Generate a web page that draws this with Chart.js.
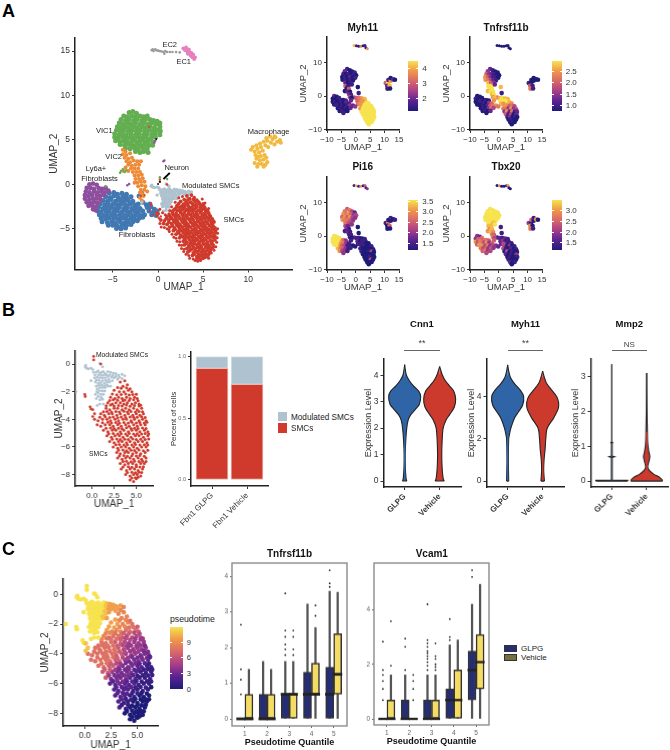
<!DOCTYPE html>
<html>
<head>
<meta charset="utf-8">
<title>Figure</title>
<script src="https://cdn.jsdelivr.net/npm/chart.js@4/dist/chart.umd.min.js"></script>
<style>
  html, body { margin: 0; padding: 0; background: #fff; }
  #page { position: relative; width: 670px; height: 750px; overflow: hidden; font-family: "Liberation Sans", Arial, sans-serif; color: #222; }
  #page canvas { position: absolute; }
  .t { position: absolute; white-space: nowrap; transform: translate(-50%, -50%); }
</style>
</head>
<body>
<div id="page"></div>
<script>
// ---- panel A, UMAP clusters [x, y]
const fibroPts = [[-5.4,-1],[-4.9,-.9],[-4.5,-1.1],[-4,-1],[-3.5,-1.1],
[-5.8,-1.4],[-5.3,-1.5],[-4.9,-1.3],[-4.4,-1.5],[-3.9,-1.4],[-3.5,-1.5],[-3,-1.4],
[-6.1,-1.8],[-5.6,-1.9],[-5.2,-1.7],[-4.7,-1.9],[-4.2,-1.8],[-3.8,-1.9],[-3.3,-1.8],[-2.8,-1.9],
[-6.4,-2.2],[-5.9,-2.3],[-5.5,-2.2],[-5,-2.2],[-4.5,-2.3],[-4.1,-2.2],[-3.6,-2.3],[-3.1,-2.2],[-2.6,-2.3],[-2.2,-2.2],
[-6.6,-2.6],[-6.1,-2.7],[-5.7,-2.6],[-5.2,-2.6],[-4.8,-2.7],[-4.3,-2.6],[-3.8,-2.7],[-3.4,-2.6],[-2.9,-2.7],[-2.4,-2.6],[-2,-2.7],[-1.2,-2.6],[-.8,-2.5],[-.4,-2.8],
[-6.7,-3],[-6.3,-3.1],[-5.8,-3],[-5.4,-3],[-4.9,-3.1],[-4.5,-3],[-4,-3.1],[-3.5,-3],[-3.1,-3.1],[-2.6,-3],[-2.2,-3.1],[-1.7,-3],[-1,-3],[-.5,-3.1],[-.1,-3],
[-6.5,-3.4],[-6,-3.5],[-5.6,-3.4],[-5.1,-3.4],[-4.7,-3.5],[-4.2,-3.4],[-3.7,-3.5],[-3.3,-3.4],[-2.8,-3.5],[-2.4,-3.4],[-1.9,-3.5],[-1.5,-3.4],[-.7,-3.4],[-.2,-3.5],
[-6.3,-3.8],[-5.8,-3.9],[-5.4,-3.8],[-4.9,-3.8],[-4.4,-3.9],[-4,-3.8],[-3.5,-3.9],[-3,-3.8],[-2.6,-3.9],[-2.1,-3.8],[-1.7,-3.7],
[-6.2,-4.2],[-5.6,-4.3],[-5.1,-4.2],[-4.7,-4.3],[-4.2,-4.2],[-3.7,-4.3],[-3.3,-4.2],[-2.8,-4.2],[-2.3,-4.1],
[-5.5,-4.6],[-5,-4.6],[-4.5,-4.7],[-4,-4.6],[-3.5,-4.6],[-3,-4.5],[-4.6,-4.95],[-4.1,-5],[-3.6,-4.9],
[-1.8,-1],[-2.1,-1.3],[-1.7,-2],[-1.3,-2.3],[-.9,-2.2]];

const ly6aPts = [[-7.6,0],[-7.2,.1],[-6.8,-.05],[-7.9,-.4],[-7.5,-.4],[-7.1,-.5],[-6.6,-.4],[-6.2,-.5],[-5.8,-.4],
[-8,-.8],[-7.6,-.9],[-7.1,-.8],[-6.7,-.9],[-6.3,-.8],[-5.9,-.9],[-5.5,-.7],
[-8.1,-1.2],[-7.7,-1.3],[-7.3,-1.2],[-6.8,-1.2],[-6.4,-1.3],[-6,-1.2],
[-8.1,-1.6],[-7.6,-1.7],[-7.2,-1.6],[-6.8,-1.6],[-6.4,-1.7],
[-7.9,-2],[-7.5,-2.1],[-7.1,-2],[-6.7,-2.1],[-7.7,-2.4],[-7.3,-2.4],[-6.9,-2.5],[-7.2,-2.8],[-6.9,-2.9]];

const vic1Pts = [[-3.2,8.1],[-2.8,8.2],[-2.4,8],
[-3.8,7.7],[-3.4,7.6],[-2.9,7.7],[-2.5,7.6],[-2,7.7],[-1.6,7.6],[-1.2,7.7],
[-4.1,7.3],[-3.6,7.2],[-3.2,7.3],[-2.7,7.2],[-2.3,7.3],[-1.8,7.2],[-1.4,7.3],[-.9,7.3],[-.5,7.2],[-.1,7.1],
[-4.3,6.9],[-3.9,6.8],[-3.4,6.9],[-3,6.8],[-2.5,6.9],[-2,6.8],[-1.6,6.9],[-1.1,6.8],[-.7,6.9],[-.2,6.8],[.2,6.9],
[-4.5,6.5],[-4.1,6.4],[-3.6,6.5],[-3.2,6.4],[-2.7,6.5],[-2.3,6.4],[-1.8,6.5],[-1.4,6.4],[-.9,6.5],[-.4,6.4],[.2,6.5],
[-4.6,6.1],[-4.2,6],[-3.8,6.1],[-3.3,6],[-2.9,6.1],[-2.4,6],[-2,6.1],[-1.5,6],[-1,6.1],[-.6,6],[-.1,6.1],[.25,6],
[-4.8,5.7],[-4.3,5.6],[-3.9,5.7],[-3.5,5.6],[-3,5.7],[-2.5,5.6],[-2.1,5.7],[-1.6,5.6],[-1.2,5.7],[-.7,5.6],[-.3,5.7],[.2,5.6],
[-4.8,5.3],[-4.4,5.2],[-3.9,5.3],[-3.4,5.2],[-3,5.3],[-2.6,5.2],[-2.1,5.3],[-1.7,5.2],[-1.3,5.3],[-.8,5.2],[-.3,5.3],
[-4.7,4.9],[-4.2,4.8],[-3.8,4.9],[-3.4,4.8],[-2.9,4.9],[-2.4,4.8],[-2,4.9],[-1.5,4.8],[-1.1,4.9],[-.6,4.8],
[-4.2,4.5],[-3.7,4.4],[-3.2,4.5],[-2.8,4.4],[-2.3,4.5],[-1.9,4.4],[-1.4,4.5],[-1,4.4],[-.6,4.4],
[-3.6,4.1],[-3.1,4],[-2.6,4.1],[-2.2,4],[-1.7,4.1],[-1.2,4],[-2.5,3.7],[-2,3.6],[-1.6,3.7],[-1.1,3.6]];

const vic2Pts = [[-3.9,3.9],[-3.6,3.7],[-3.9,3.4],[-3.5,3.3],[-3.1,3.5],[-3.7,3],[-3.3,2.9],[-2.9,3],[-3.5,2.6],[-3.1,2.5],[-2.7,2.7],[-2.3,2.6],
[-3.3,2.2],[-2.9,2.1],[-2.5,2.2],[-2.1,2.2],[-1.9,2.6],[-3.6,1.9],[-3,1.8],[-2.6,1.8],[-2.2,1.8],[-3.8,1.5],[-3.3,1.5],[-2.8,1.4],[-2.4,1.4],[-2,1.4],
[-2.6,1],[-2.2,1],[-1.8,1.1],[-2.5,.6],[-2.1,.6],[-1.7,.7],[-2.6,.2],[-2.3,.2],[-1.9,.3],[-1.5,.3],[-2.2,-.2],[-1.8,-.1],[-1.4,-.2],
[-1.9,-.6],[-1.5,-.6],[-1.2,-.8],[-1.8,-1],[-1.6,-1.3],[-2,-1.5],[-1.8,-1.8],[-2,-.9]];

const macroPts = [[10.3,3.9],[10.5,4.2],[10.7,3.7],[10.9,4.4],[11,4],[11.2,3.6],[11.3,4.6],[11.4,4.2],[11.6,3.8],[11.7,4.8],[11.9,4.4],[12,5.2],[12.1,4.9],[12.2,4.2],
[12.4,5.4],[12.5,4.7],[12.7,5.1],[12.9,4.5],[13,5.3],[13.2,4.8],[13.5,5],[13.6,4.7],[12.9,5.4],[10.8,3.3],[11.1,3.1],[11.4,3.2],[11.8,3.3],[10.9,2.9],[11.3,2.7],[11.7,2.8],[12,3],
[10.7,2.4],[11.1,2.3],[11.5,2.3],[11.9,2.2],[11,2],[11.7,2],[12.1,2.5]];

const ec1Pts = [[2.8,15.3],[3,15.1],[3.1,15.4],[3.2,15],[3.3,14.7],[3.4,15.2],[3.5,14.9],[3.6,14.5],[3.7,14.8],[3.8,14.3],[3.9,14.6],[4,14.1],[4.1,14.3],[3.3,14.9]];
const ec2Pts = [[-.7,15.1],[-.6,15.2],[-.5,15],[-.3,15.2],[-.2,15.1],[0,15.05],[.2,15],[.4,14.95],[.6,14.9],[.7,14.7],[.8,15],[1,14.9],[1.3,14.9],[1.6,14.9],[2,14.9],[2.4,14.85]];
const greenBits = [[-4.1,1.5],[-3.9,1.7],[-3.7,1.4],[-4.2,1.3],[-3.5,1.6],[.2,.8],[1,.6],[-5.8,-.2]];
const purpleBits = [[.7,2.7],[.6,2.6],[-3.2,.05],[-3.4,-.1],[-.3,4.9],[-.4,4.7]];
const blackBits = [[0,.05],[.2,.3],[-.2,5.1]];
const redBits = [[-6.6,-2],[-1.9,-1.3],[-1.5,-1.2],[-1,6.5],[-.6,-3.4],[-.9,-2.9]];
const neuronArrowX = [.6,1.3];
const neuronArrowY = [.6,1.3];

// SMC subset, shared by the panels A, B and C [x, y, pseudotime]
const smcPts = [[3.2,-1.3,8],[3.7,-1.2,8],[4,-1.5,8],[3.5,-1.6,8],[2.9,-1.7,9],[2.5,-1.9,9],[3.1,-2,9],[3.6,-2,8],[4.1,-1.9,8],[4.5,-2,7],
[2.1,-2.4,9],[2.6,-2.5,8],[3,-2.4,8],[3.4,-2.5,8],[3.9,-2.4,7],[4.3,-2.5,7],[4.8,-2.4,7],[5.1,-2.5,6],
[1.8,-2.8,8],[2.3,-2.9,7],[2.7,-2.8,7],[3.2,-2.8,7],[3.6,-2.9,6],[4,-2.8,5],[4.5,-2.9,5],[4.9,-2.8,5],[5.3,-2.9,5],
[1.6,-3.2,7],[2,-3.3,7],[2.5,-3.2,7],[2.9,-3.2,6],[3.4,-3.3,6],[3.8,-3.2,5],[4.2,-3.3,4],[4.7,-3.2,4],[5.1,-3.3,4],[5.6,-3.2,4],
[1,-3.6,7],[1.4,-3.7,7],[1.9,-3.6,7],[2.3,-3.6,7],[2.8,-3.7,7],[3.2,-3.6,6],[3.7,-3.7,5],[4.1,-3.6,4],[4.6,-3.7,4],[5,-3.6,4],[5.4,-3.7,4],[5.8,-3.6,4],
[.3,-4,7],[.7,-4.1,7],[1.2,-4,7],[1.7,-4,7],[2.1,-4.1,7],[2.6,-4,7],[3,-4.1,6],[3.5,-4,6],[3.9,-4,4],[4.4,-4.1,4],[4.8,-4,4],[5.3,-4.1,3],[5.7,-4,3],[6.1,-4.1,3],
[.6,-4.4,7],[1,-4.5,7],[1.5,-4.4,7],[2,-4.4,7],[2.4,-4.5,7],[2.9,-4.4,6],[3.3,-4.5,6],[3.8,-4.4,4],[4.2,-4.5,3],[4.7,-4.4,3],[5.1,-4.5,3],[5.5,-4.4,3],[6,-4.4,2],
[1.3,-4.8,7],[1.8,-4.9,7],[2.3,-4.8,6],[2.7,-4.8,6],[3.2,-4.9,4],[3.6,-4.8,3],[4.1,-4.9,3],[4.5,-4.8,3],[5,-4.8,2],[5.4,-4.9,2],[5.9,-4.8,1],[6.3,-4.9,1],
[1.7,-5.2,6],[2.2,-5.3,6],[2.6,-5.2,4],[3.1,-5.2,3],[3.5,-5.3,3],[4,-5.2,3],[4.4,-5.3,3],[4.9,-5.2,2],[5.3,-5.2,1],[5.8,-5.3,1],[6.3,-5.2,1],
[2,-5.6,6],[2.5,-5.7,3],[3,-5.6,3],[3.4,-5.6,3],[3.9,-5.7,3],[4.3,-5.6,2],[4.8,-5.7,2],[5.2,-5.6,1],[5.7,-5.6,1],[6.2,-5.7,1],
[2.4,-6,2],[2.9,-6.1,2],[3.3,-6,3],[3.8,-6,2],[4.2,-6.1,2],[4.7,-6,2],[5.1,-6.1,1],[5.6,-6,1],[6.1,-6,1],
[2.8,-6.4,2],[3.2,-6.5,2],[3.7,-6.4,2],[4.1,-6.4,2],[4.6,-6.5,1],[5,-6.4,1],[5.5,-6.5,1],[6,-6.4,1],
[2.9,-6.8,2],[3.4,-6.9,2],[3.8,-6.8,2],[4.3,-6.8,1],[4.7,-6.9,1],[5.2,-6.8,0],[5.6,-6.9,0],[6.1,-6.8,0],
[3.2,-7.2,2],[3.7,-7.3,1],[4.1,-7.2,1],[4.6,-7.2,0],[5,-7.3,0],[5.5,-7.2,0],[5.9,-7.2,0],
[3.3,-7.6,2],[3.9,-7.7,1],[4.3,-7.6,0],[4.8,-7.6,0],[5.2,-7.7,0],[5.7,-7.6,0],
[3.8,-8,0],[4.3,-8.1,0],[4.7,-8,0],[5.1,-8,0],[5.5,-8.1,0],[4.3,-8.4,0],[4.7,-8.5,0],[5,-8.3,0]];

// more SMC cells, sitting in the gaps between the ones above
const smcFillPts = [[3.3,-1.75,8],[3.9,-1.72,8],[4.3,-1.78,7],
[2.3,-2.17,9],[2.8,-2.23,9],[3.3,-2.2,8],[3.8,-2.16,8],[4.2,-2.24,7],[4.6,-2.2,7],[5,-2.18,6],
[2,-2.63,8],[2.4,-2.58,8],[2.9,-2.62,7],[3.5,-2.66,7],[3.72,-2.6,6],[4.2,-2.64,6],[4.7,-2.58,5],[5.2,-2.66,5],
[1.62,-3.02,8],[2.1,-2.97,7],[2.5,-3.04,7],[3,-3,7],[3.4,-3.03,6],[3.9,-2.96,5],[4.3,-3.05,5],[4.8,-3,4],[5.3,-3.04,4],[5.5,-2.98,4],
[1.3,-3.45,7],[1.7,-3.43,7],[2.2,-3.48,7],[2.7,-3.44,7],[3.1,-3.47,6],[3.6,-3.42,5],[4,-3.48,4],[4.4,-3.44,4],[4.9,-3.47,4],[5.3,-3.43,4],[5.7,-3.45,3],
[.9,-3.85,7],[1.5,-3.82,7],[2,-3.87,7],[2.4,-3.83,7],[2.9,-3.88,7],[3.3,-3.84,6],[3.8,-3.87,5],[4.3,-3.83,4],[4.7,-3.86,4],[5.1,-3.85,4],[5.6,-3.82,3],[6,-3.87,3],
[1.2,-4.25,7],[1.8,-4.22,7],[2.2,-4.27,7],[2.7,-4.23,7],[3.1,-4.28,6],[3.6,-4.24,5],[4.1,-4.27,4],[4.5,-4.22,3],[5,-4.26,3],[5.4,-4.24,3],[5.9,-4.27,3],[6.2,-4.22,2],
[1.6,-4.65,7],[2.1,-4.63,7],[2.5,-4.67,6],[3,-4.64,5],[3.4,-4.68,4],[3.9,-4.62,3],[4.4,-4.66,3],[4.8,-4.64,3],[5.2,-4.67,2],[5.7,-4.63,2],[6.1,-4.66,1],
[1.9,-5.05,6],[2.4,-5.03,6],[2.9,-5.07,4],[3.3,-5.04,3],[3.8,-5.06,3],[4.2,-5.03,3],[4.7,-5.07,2],[5.1,-5.04,2],[5.6,-5.06,1],[6,-5.03,1],[6.4,-5.06,1],
[2.3,-5.45,4],[2.8,-5.43,3],[3.2,-5.47,3],[3.7,-5.44,3],[4.1,-5.46,3],[4.6,-5.43,2],[5,-5.47,1],[5.5,-5.44,1],[6,-5.46,1],[6.4,-5.43,1],
[2.7,-5.85,2],[3.1,-5.83,3],[3.6,-5.87,3],[4,-5.84,2],[4.5,-5.86,2],[4.9,-5.83,1],[5.4,-5.87,1],[5.9,-5.84,1],[6.3,-5.86,1],
[3,-6.25,2],[3.5,-6.23,2],[3.9,-6.27,2],[4.4,-6.24,2],[4.8,-6.26,1],[5.3,-6.23,1],[5.8,-6.27,1],[6.3,-6.24,0],
[3.1,-6.65,2],[3.6,-6.63,2],[4,-6.67,2],[4.5,-6.64,1],[5,-6.66,1],[5.4,-6.63,0],[5.9,-6.67,0],
[3.5,-7.05,2],[3.9,-7.03,1],[4.4,-7.07,1],[4.8,-7.04,0],[5.3,-7.06,0],[5.7,-7.03,0],[6.1,-7.06,0],
[3.5,-7.45,1],[4.1,-7.43,1],[4.5,-7.47,0],[5,-7.44,0],[5.4,-7.46,0],[5.8,-7.43,0],
[4,-7.85,0],[4.5,-7.83,0],[4.9,-7.87,0],[5.3,-7.84,0],[5.6,-7.86,0],[4.5,-8.25,0],[4.9,-8.23,0],[5.2,-8.2,0]];

// only in the full UMAP of panel A: the SMC cloud is wider there on its left side
const smcMainPts = [[2.3,-1.5],[2.7,-1.35],[1.9,-2],[1.5,-2.5],[1.3,-2.95],[1.2,-3.3],[1.55,-5.6],[1.75,-5.95],[2,-6.05],[2.1,-6.4],[2.4,-6.45],[2.35,-6.8],[2.6,-6.85],
[2.6,-7.2],[2.9,-7.3],[2.85,-7.55],[3.1,-7.85],[3.4,-8],[3.5,-8.3],[3.9,-8.4],[4.1,-8.55],[4.4,-8.65],[.2,-2.8],[.5,-3.2],[.8,-3.4],[-.1,-3.5],[.2,-4.4],[.35,-4.8],[.7,-4.85],
[1,-5],[1.25,-5.3],[1.2,-5.1],[6.6,-5],[6.6,-5.5],[6.55,-6],[6.5,-6.5],[6.4,-7],[6.2,-7.4],[5.9,-7.7],[5.6,-8.3],[4.9,-1.65],[5.2,-2.1],[5.6,-2.7]];

const smcStrayPts = [[.2,.55,11],[.2,.3,11],[1,0,11],[-.8,-2.2,11],[-.75,-2.35,11],[-.2,-3.1,11],[-.1,-3.25,11],[.1,-3.3,10],[.3,-3.6,10],[.1,-3.8,10]];

const modPts = [[-1.8,-2,11],[-.75,-.2,11],[-.6,-.3,11],[-.4,-.35,11],[-.7,-.1,11],[-.1,-.3,11],[.1,-.4,11],[.2,-.6,11],[.5,-.6,11],[.7,-.5,11],[.9,-.65,11],[1.1,-.6,11],
[1.3,-.55,11],[1.5,-.7,11],[1.8,-.55,11],[2.1,-.6,10],[2.4,-.65,9],[2.7,-.7,9],[3,-.8,9],[3.4,-.75,9],[3.7,-.85,8],[.9,.05,11],[1.2,-.2,11],[-.1,-1.2,11],
[.3,-1,11],[.6,-.95,11],[.9,-1,11],[1.2,-1,11],[1.5,-1,11],[1.8,-.9,11],[2.2,-.95,9],[2.5,-1,9],[2.9,-1.1,9],[3.4,-1.05,8],[.4,-1.3,11],[.7,-1.4,11],[1,-1.35,11],
[1.4,-1.4,11],[1.7,-1.3,11],[2,-1.3,10],[.6,-1.8,11],[.9,-1.7,11],[1.2,-1.7,11],[1.5,-1.7,11],[1.8,-1.6,10],[2.1,-1.6,9],[.4,-2.2,11],[.7,-2.1,11],[1,-2.2,11],
[1.3,-2.2,11],[.5,-2.5,11],[.9,-2.6,11],[1.2,-2.55,11],[.9,-2.9,11],[1.3,-2.9,11],[.6,-3,11],
[.35,-.8,11],[.75,-.78,11],[1.05,-.82,11],[1.35,-.8,11],[1.65,-.78,11],[2,-.78,10],[2.35,-.82,9],[2.7,-.9,9],[3.1,-.95,9],[.5,-1.15,11],[.8,-1.18,11],[1.2,-1.2,11],
[1.55,-1.18,11],[1.9,-1.12,10],[2.3,-1.2,9],[.5,-1.6,11],[.8,-1.55,11],[1.1,-1.52,11],[1.4,-1.58,11],[1.7,-1.5,10],[.55,-2,11],[.85,-1.92,11],[1.15,-1.95,11],[1.45,-1.95,11],[.7,-2.35,11],[1.05,-2.42,11]];

// feature plots, [x, y, Myh11, Tnfrsf11b, Pi16, Tbx20], level 0..9
const featSmc = [[2.6,-2,9,8,1,2],[3.5,-1.8,9,8,0,1],[4.4,-2.1,9,7,0,1],[2,-2.9,8,8,0,1],[2.9,-2.8,9,7,1,0],[3.8,-2.9,9,5,0,3],[4.7,-2.9,9,6,0,0],[5.4,-3,9,4,1,1],
[1.6,-3.7,7,6,1,4],[2.5,-3.7,9,6,0,1],[3.4,-3.7,9,3,0,0],[4.3,-3.7,9,7,0,2],[5.2,-3.8,9,3,0,0],[6,-3.9,9,4,0,1],[2,-4.6,9,3,1,0],[2.9,-4.5,9,7,0,4],[3.8,-4.6,9,2,0,0],[4.7,-4.6,9,6,1,1],[5.6,-4.6,9,1,4,0],[6.3,-4.7,9,2,0,0],
[2.5,-5.4,9,5,0,2],[3.4,-5.4,9,1,0,0],[4.3,-5.4,9,4,0,1],[5.2,-5.4,9,0,0,0],[6.1,-5.5,9,2,0,3],[3,-6.2,9,1,0,0],[3.9,-6.2,9,3,0,1],[4.8,-6.2,9,0,1,0],[5.7,-6.2,9,1,0,0],[6.4,-6.2,9,0,0,1],
[3.4,-7,9,0,0,1],[4.3,-7,9,1,0,0],[5.2,-7,9,0,4,0],[6,-7,9,0,0,0],[4,-7.8,9,0,0,2],[4.8,-7.8,9,1,0,0],[5.5,-7.7,9,0,0,1],[4.5,-8.4,9,0,0,0]];
const featMod = [[-.6,-.4,4,6,2,1],[.4,-.6,5,8,1,2],[1.3,-.6,6,9,1,1],[2.2,-.7,7,8,0,2],[3.1,-.9,8,8,1,1],[.6,-1.5,5,9,2,2],[1.5,-1.4,6,9,0,3],[2.3,-1.4,7,9,1,1],[.8,-2.3,6,8,1,2],[1.6,-2.3,7,7,1,4]];
const featFib = [[-5.3,-1.2,1,0,7,5],[-4.4,-1.2,0,1,6,6],[-3.5,-1.3,1,0,3,5],[-6,-2,0,0,9,6],[-5.1,-2,1,1,7,4],[-4.2,-2,0,0,6,7],[-3.3,-2,2,3,3,3],[-2.4,-2.2,1,5,1,5],
[-6.5,-2.8,1,0,8,5],[-5.6,-2.8,0,1,7,7],[-4.7,-2.8,1,0,5,4],[-3.8,-2.8,0,2,4,6],[-2.9,-2.8,1,5,1,3],[-2,-2.8,3,6,1,4],[-1,-2.8,2,7,0,3],[-.2,-3.1,3,6,0,2],
[-6.2,-3.6,0,0,8,6],[-5.3,-3.6,1,1,6,4],[-4.4,-3.6,0,0,5,5],[-3.5,-3.6,1,3,3,3],[-2.6,-3.6,0,6,1,5],[-1.8,-3.5,2,4,1,3],[-5.6,-4.4,0,0,7,5],[-4.7,-4.4,1,1,4,6],[-3.8,-4.4,0,0,3,3],[-2.9,-4.4,0,2,1,4],[-4.3,-5,1,0,3,4]];
const featLy6a = [[-7.5,0,2,0,9,3],[-6.6,-.2,0,0,9,2],[-5.8,-.6,1,0,9,6],[-8,-.8,0,1,9,3],[-7.1,-.9,0,0,9,5],[-6.2,-1.1,1,0,9,5],[-8,-1.7,0,0,9,7],[-7.1,-1.8,2,0,9,3],[-6.6,-1.5,0,1,9,6],[-7.5,-2.5,0,0,9,5],[-6.8,-2.6,1,0,9,7]];
const featVic1 = [[-3,8.1,1,2,5,9],[-2.1,7.7,0,1,6,9],[-3.8,7.4,2,3,6,9],[-1.3,7.3,0,0,4,9],[-.4,7,1,0,2,9],[-4.3,6.6,1,5,7,9],[-3.4,6.6,0,3,6,9],[-2.5,6.6,1,2,7,9],[-1.6,6.5,0,1,5,9],[-.7,6.3,1,0,3,9],[.1,6.2,0,0,4,9],
[-4.7,5.7,0,7,5,9],[-3.8,5.7,1,5,7,9],[-2.9,5.7,0,3,5,9],[-2,5.7,2,1,7,9],[-1.1,5.6,0,1,4,9],[-.2,5.5,1,0,3,9],[-4.6,4.9,0,7,7,9],[-3.7,4.8,1,6,6,9],[-2.8,4.8,0,4,6,9],[-1.9,4.8,1,2,5,9],[-1,4.7,0,1,3,9],
[-3.6,4,2,8,6,9],[-2.7,4,0,5,5,9],[-1.8,4,1,3,4,8],[-2.4,3.4,0,6,4,8],[-1.4,3.5,1,2,3,9]];
const featVic2 = [[-3.6,3,5,9,4,8],[-2.8,2.9,1,9,2,8],[-3.2,2.1,0,9,3,7],[-2.4,2.1,5,9,1,8],[-3.8,1.5,0,8,1,7],[-2.8,1.3,2,9,2,8],[-2,1.3,0,9,1,7],[-2.3,.5,3,8,1,6],[-1.7,.4,1,9,1,5],[-2,-.3,4,7,1,6],[-1.5,-.5,0,8,0,4],[-1.7,-1.3,2,7,1,5],[.7,2.7,0,8,0,1],[1,.9,1,1,0,1]];
const featMac = [[10.4,3.9,5,1,1,3],[11.2,3.9,9,0,6,0],[11.3,4.8,1,0,0,5],[12.1,4.6,7,0,0,0],[12.1,5.4,0,0,1,1],[13,5,2,0,0,7],[13.6,4.9,0,0,1,0],[10.9,3.1,2,5,0,7],[11.7,3.1,8,1,5,0],[11,2.2,1,6,0,6],[11.9,2.3,0,1,0,1]];
const featEc = [[-.6,15.1,8,0,1,0],[.2,15,1,0,8,7],[1,14.9,0,0,1,0],[1.8,14.9,6,0,7,0],[2.6,15,0,0,0,1],[3.2,15.1,1,0,5,7],[3.5,14.4,0,0,1,0],[4,14.1,7,0,3,0]];

// panel B, stacked bars
const barCats = ['Fbn1 GLPG','Fbn1 Vehicle'];
const barSmc = [.905,.776];
const barMod = [.095,.224];

// violin outlines, level and half width
const cnn1GlpgLev = [0,.1,.5,1,1.5,2,2.3,2.5,2.7,2.9,3.2,3.4,3.6,3.8,4,4.2,4.4];
const cnn1GlpgW = [.06,.04,.02,.015,.03,.06,.1,.17,.3,.42,.457,.4,.25,.13,.05,.02,0];
const cnn1VehLev = [0,.1,.5,1,1.5,2,2.3,2.5,2.8,3.1,3.4,3.6,3.8,4,4.2,4.33];
const cnn1VehW = [.13,.1,.07,.06,.07,.1,.18,.28,.42,.457,.4,.28,.16,.08,.03,0];
const myhGlpgLev = [0,1,2,2.2,2.5,3,3.3,3.6,4,4.3,4.6,4.9,5.2,5.5];
const myhGlpgW = [.03,.02,.03,.05,.09,.2,.32,.43,.457,.36,.2,.08,.03,0];
const myhVehLev = [0,.5,1,1.5,2,2.5,3,3.4,3.7,4,4.3,4.6,4.9,5.2];
const myhVehW = [.05,.03,.04,.07,.09,.13,.32,.44,.457,.4,.26,.12,.05,0];
const mmpGlpgLev = [0,.02,.03,.68,.7,.72,1.08,1.1,1.12,3.35];
const mmpGlpgW = [.457,.457,.012,.012,.08,.012,.01,.03,.01,0];
const mmpVehLev = [0,.04,.1,.2,.3,.4,.55,.7,.85,1.1,1.5,2,3.1];
const mmpVehW = [.457,.44,.38,.2,.08,.03,.06,.09,.06,.03,.02,.01,0];

// panel C, box plots, one row per quantile: low whisker, q1, median, q3, high whisker
const tnfGlpgBox = [[0,0,0,0,0],[0,0,0,.69,1.61],[0,0,.69,.69,1.61],[0,0,.69,1.31,3.22],[0,0,.69,1.45,3.58]];
const tnfVehBox = [[0,0,0,.69,1.39],[0,0,0,.69,1.39],[0,0,.69,.71,1.61],[0,.69,.69,1.56,2.56],[0,.69,1.25,2.39,3.55]];
const tnfGlpgOut = [[.69,1.1,1.39,2.64],[],[1.79,1.95,2.09,2.3,2.48,3.52],[],[3.7,3.8,4.17]];
const tnfVehOut = [[],[],[1.79,1.95,2.3,2.48],[2.89,3.18],[]];
const vcamGlpgBox = [[0,0,0,0,0],[0,0,0,.69,1.61],[0,0,0,.69,1.61],[0,0,.69,1.1,2.71],[0,.69,1.79,2.48,4.2]];
const vcamVehBox = [[0,0,0,.69,1.61],[0,0,0,0,0],[0,0,0,.69,1.61],[0,0,.69,1.79,2.89],[0,1.1,2.08,3.09,4.93]];
const vcamGlpgOut = [[.69,1.1,1.39,1.61,1.79,2.83],[1.79,2.64,2.94],[1.79,1.95,2.08,2.2,2.3,2.4,2.48,2.64,2.77,2.89,4.2],[2.89,3,3.66],[5.2,5.45]];
const vcamVehOut = [[1.95,3.58],[.69,1.1,1.39,1.61],[1.79,1.9,2,2.2,2.3,2.77],[],[]];
const quantiles = [1,2,3,4,5];

Chart.defaults.font.family = '"Liberation Sans", Arial, sans-serif';
Chart.defaults.color = '#333';
Chart.defaults.animation = false;

const page = document.getElementById('page');
const rampStops = ['#1f1b78','#5a2390','#a83f88','#d9686a','#f0984a','#f7e34e'];

function hexRgb(h){
    return [1,3,5].map(i => parseInt(h.substr(i,2),16));
}

function rampColor(t){
    let p = Math.max(0,Math.min(1,t))*(rampStops.length-1);
    let i = Math.min(Math.floor(p),rampStops.length-2);
    let a = hexRgb(rampStops[i]), b = hexRgb(rampStops[i+1]);
    let f = p-i;
    return 'rgb('+a.map((v,k)=>Math.round(v+(b[k]-v)*f)).join(',')+')';
}

function txt(x,y,str,size,extra){
    let d = document.createElement('div');
    d.className = 't';
    d.style.left = x+'px';
    d.style.top = y+'px';
    d.style.fontSize = size+'px';
    d.textContent = str;
    if(extra) Object.assign(d.style,extra);
    page.appendChild(d);
    return d;
}

function box(x,y,w,h,extra){
    let d = document.createElement('div');
    d.style.position = 'absolute';
    d.style.left = x+'px';
    d.style.top = y+'px';
    d.style.width = w+'px';
    d.style.height = h+'px';
    Object.assign(d.style,extra);
    page.appendChild(d);
    return d;
}

function colorBar(x,y,w,h,labels,size){
    box(x,y,w,h,{background:'linear-gradient(to top,'+rampStops.join(',')+')'});
    labels.forEach(l => {
        box(x,l[1],2,1,{background:'#fff'});
        box(x+w-2,l[1],2,1,{background:'#fff'});
        txt(x+w+4,l[1],l[0],size||8,{transform:'translate(0,-50%)',color:'#333'});
    });
}

// axis with a fixed box, so the plot area lands on the same pixels as the figure
function axis(o){
    let fit = o.horizontal ? (s => {s.height = o.room}) : (s => {s.width = o.room});
    return {
        type:'linear', min:o.min, max:o.max, offset:false,
        grid:{drawOnChartArea:false, drawTicks:true, tickLength:o.tickLen||3, tickColor:o.tickColor||'#333', tickWidth:1, offset:false},
        border:{display:!o.noLine, color:'#222', width:o.lineW||1.5},
        afterBuildTicks:s => {s.ticks = o.ticks.map(v => ({value:v}))},
        afterFit:fit,
        title:{display:!!o.title, text:o.title, padding:0, color:o.titleColor||'#333', font:{size:o.titleSize||10, weight:o.titleWeight||'normal'}},
        ticks:Object.assign({
            padding:o.tickPad||2, autoSkip:false, maxRotation:0, minRotation:0, color:o.tickText||'#333',
            font:{size:o.tickSize||8.5, weight:o.tickWeight||'normal'},
            callback:o.fmt || (v => String(v).replace('-','\u2212'))
        },o.rot?{maxRotation:o.rot,minRotation:o.rot}:{})
    };
}

function place(plot,m,config){
    let c = document.createElement('canvas');
    let w = plot.r-plot.l+m.l+m.r;
    let h = plot.b-plot.t+m.t+m.b;
    c.width = w;
    c.height = h;
    c.style.left = (plot.l-m.l)+'px';
    c.style.top = (plot.t-m.t)+'px';
    c.style.width = w+'px';
    c.style.height = h+'px';
    page.appendChild(c);
    config.options = Object.assign({
        responsive:false, maintainAspectRatio:false, animation:false, devicePixelRatio:1,
        layout:{padding:{top:m.t,right:m.r,left:0,bottom:0,autoPadding:false}},
    },config.options);
    config.options.plugins = Object.assign({legend:{display:false},tooltip:{enabled:false}},config.options.plugins);
    return new Chart(c,config);
}

function pts(list,color,r){
    return {
        data:list.map(p => ({x:p[0],y:p[1]})),
        backgroundColor:color, borderWidth:0, pointRadius:r, pointBorderWidth:0
    };
}

// ---- A: main UMAP (first dataset ends up on top)
place({l:75,t:37,r:292,b:269.5},{l:27,t:6,r:12,b:23.5},{
    type:'scatter',
    data:{datasets:[
        {type:'scatter',showLine:true,data:neuronArrowX.map((x,i) => ({x,y:neuronArrowY[i]})),borderColor:'#000',borderWidth:2,pointRadius:0},
        pts(blackBits,'#111',1),
        pts(redBits,'#e0392b',1),
        pts(purpleBits,'#8e4f9f',1.2),
        pts(greenBits,'#63ae50',1.3),
        pts(ec1Pts,'#e77fbf',1.9),
        pts(ec2Pts,'#9a9a9a',1.3),
        pts(smcStrayPts,'#e0392b',1.2),
        pts(smcMainPts,'#cf3a2c',1.5),
        pts(smcPts,'#cf3a2c',1.9),
        pts(smcFillPts,'#cf3a2c',1.9),
        pts(modPts,'#aec2cf',1.7),
        pts(macroPts,'#f2b93f',2.1),
        pts(vic2Pts,'#ee8a36',2),
        pts(vic1Pts,'#63ae50',2.5),
        pts(ly6aPts,'#8e4f9f',2.4),
        pts(fibroPts,'#4178b2',2.5)
    ]},
    options:{scales:{
        x:axis({horizontal:true,room:23.5,min:-9.2,max:14.84,ticks:[-5,0,5,10],title:'UMAP_1'}),
        y:axis({room:27,min:-9.57,max:16.46,ticks:[-5,0,5,10,15],title:'UMAP_2'})
    }}
});

const clusterLabels = [['EC2',169.7,44],['EC1',183.7,61.3],['VIC1',104.3,130],['VIC2',113.7,156],['Ly6a+',96,168],['Fibroblasts',99.5,178],['Neuron',176.7,166.7],
    ['Modulated SMCs',210.7,184.7],['SMCs',233.7,219.3],['Fibroblasts',137,233.7],['Macrophage',268.7,130.7]];
clusterLabels.forEach(l => txt(l[1],l[2],l[0],7.5));

// ---- A: feature plots
const featAll = [featSmc,featMod,featFib,featLy6a,featVic1,featVic2,featMac,featEc].flat();

function featurePlot(left,top,gene,col){
    place({l:left,t:top,r:left+72.3,b:top+94},{l:29,t:6,r:10,b:23},{
        type:'scatter',
        data:{datasets:[{
            data:featAll.map(p => ({x:p[0],y:p[1]})),
            pointBackgroundColor:featAll.map(p => rampColor(p[col]/9)),
            pointRadius:featAll.map(p => p[1] > 12 ? 1.5 : 2.3), pointBorderWidth:0
        }]},
        options:{scales:{
            x:axis({horizontal:true,room:23,min:-10,max:15,ticks:[-10,-5,0,5,10,15],title:'UMAP_1',titleSize:9.5,tickSize:8}),
            y:axis({room:29,min:-10.1,max:17.7,ticks:[-10,0,10],title:'UMAP_2',titleSize:9.5,tickSize:8})
        }}
    });
    txt(left+36,top-9.5,gene,10,{fontWeight:'bold',color:'#111'});
}
featurePlot(326.7,36,'Myh11',2);
featurePlot(470,36,'Tnfrsf11b',3);
featurePlot(326.7,175.5,'Pi16',4);
featurePlot(470,175.5,'Tbx20',5);

colorBar(408.3,61,10,50,[['4',68],['3',83],['2',98]]);
colorBar(551.7,61,10,50,[['2.5',71.3],['2.0',82.3],['1.5',93.7],['1.0',104.7]]);
colorBar(408.3,200,10,50,[['3.5',200.5],['3.0',211],['2.5',221.7],['2.0',232.3],['1.5',242.7]]);
colorBar(551.7,200,10,50,[['3.0',210],['2.5',221],['2.0',231.7],['1.5',242.3]]);

// ---- B: SMC umap
place({l:75,t:350,r:152.7,b:486},{l:22,t:6,r:10,b:24},{
    type:'scatter',
    data:{datasets:[
        pts(smcStrayPts,'#cf3a2c',1.4),
        pts(smcPts,'#cf3a2c',1.5),
        pts(smcFillPts,'#cf3a2c',1.5),
        pts(modPts,'#aec2cf',1.4)
    ]},
    options:{scales:{
        x:axis({horizontal:true,room:24,min:-1.88,max:6.88,ticks:[0,2.5,5],title:'UMAP_1',tickSize:8,fmt:v => v.toFixed(1)}),
        y:axis({room:22,min:-8.83,max:.96,ticks:[-8,-6,-4,-2,0],title:'UMAP_2',tickSize:8})
    }}
});
txt(122,353.7,'Modulated SMCs',6.8);
txt(98.3,453,'SMCs',6.8);

// ---- B: stacked bars
place({l:190.7,t:352,r:268,b:486},{l:22,t:6,r:10,b:46},{
    type:'bar',
    data:{datasets:[
        {data:barSmc.map((v,i) => ({x:i+1,y:[0,v]})),backgroundColor:'#cf3a2c',borderColor:'#eab8b2',borderWidth:1,borderSkipped:false,barThickness:32,grouped:false},
        {data:barMod.map((v,i) => ({x:i+1,y:[barSmc[i],barSmc[i]+v]})),backgroundColor:'#aec2cf',borderColor:'#dbe4ea',borderWidth:1,borderSkipped:false,barThickness:32,grouped:false}
    ]},
    options:{scales:{
        x:axis({horizontal:true,room:46,min:.4,max:2.6,ticks:[1,2],tickSize:8,rot:45,fmt:v => barCats[v-1]}),
        y:axis({room:22,min:-.049,max:1.038,ticks:[0,.5,1],title:'Percent of cells',titleSize:8,tickSize:5.5,tickText:'#666',fmt:v => v.toFixed(1)})
    }}
});
box(278.3,412,9,9.3,{background:'#aec2cf'});
box(278.3,423,9,9.5,{background:'#cf3a2c'});
txt(291,417,'Modulated SMCs',8.2,{transform:'translate(0,-50%)'});
txt(291,427.5,'SMCs',8.2,{transform:'translate(0,-50%)'});

// ---- B: violins
function halfLine(lev,wid,c,side,color,tension){
    return {
        data:lev.map((y,i) => ({x:c+side*wid[i],y})),
        borderColor:'#222', borderWidth:1.1, backgroundColor:color,
        fill:{value:c}, pointRadius:0, tension:tension
    };
}

// closes the two halves: a bottom edge, and a line over the seam down the middle
function violinSets(v,c,color,seamTop,tension){
    let base = {data:[{x:c-v[1][0],y:0},{x:c+v[1][0],y:0}],borderColor:'#222',borderWidth:1.1,pointRadius:0};
    let sets = [base];
    if(seamTop) sets.push({data:[{x:c,y:.03},{x:c,y:seamTop}],borderColor:color,borderWidth:1.4,pointRadius:0});
    return sets.concat(halfLine(v[0],v[1],c,-1,color,tension),halfLine(v[0],v[1],c,1,color,tension));
}

function violinPlot(left,right,yMin,yMax,yTicks,glpg,veh,seams,title,mark){
    const blue = '#2f65a7', red = '#cc3a2e';
    place({l:left,t:357.7,r:right,b:486.7},{l:20.5,t:6,r:8,b:42},{
        type:'line',
        data:{datasets:violinSets(glpg,1,blue,seams[0],seams[0] ? .3 : 0).concat(violinSets(veh,2,red,seams[1],.3))},
        options:{indexAxis:'y',scales:{
            x:axis({horizontal:true,room:42,min:.395,max:2.61,ticks:[1,2],tickSize:8,tickWeight:'bold',rot:45,fmt:v => ['GLPG','Vehicle'][v-1]}),
            y:axis({room:20.5,min:yMin,max:yMax,ticks:yTicks,title:'Expression Level',titleSize:9,tickSize:8.5})
        }}
    });
    let c1 = left+(1-.395)/(2.61-.395)*(right-left);
    let c2 = left+(2-.395)/(2.61-.395)*(right-left);
    txt((c1+c2)/2,323,title,9.5,{fontWeight:'bold',color:'#111'});
    box(c1,349.5,c2-c1,1,{background:'#666'});
    txt((c1+c2)/2,mark == 'NS' ? 343.5 : 342.5,mark,mark == 'NS' ? 8 : 9,{color:'#444'});
}
violinPlot(383,461,-.225,4.61,[0,1,2,3,4],[cnn1GlpgLev,cnn1GlpgW],[cnn1VehLev,cnn1VehW],[3.95,4.05],'Cnn1','**');
violinPlot(486.7,564.3,-.28,5.77,[0,2,4],[myhGlpgLev,myhGlpgW],[myhVehLev,myhVehW],[5,4.9],'Myh11','**');
violinPlot(590.7,668,-.17,3.5,[0,1,2,3],[mmpGlpgLev,mmpGlpgW],[mmpVehLev,mmpVehW],[0,1.4],'Mmp2','NS');

// ---- C: pseudotime umap
const ptAll = smcPts.concat(smcFillPts,modPts,smcStrayPts);
place({l:63.3,t:578,r:157.7,b:726},{l:24,t:6,r:10,b:25},{
    type:'scatter',
    data:{datasets:[{
        data:ptAll.map(p => ({x:p[0],y:p[1]})),
        pointBackgroundColor:ptAll.map(p => rampColor(p[2]/11)),
        pointRadius:2.3, pointBorderWidth:0
    }]},
    options:{scales:{
        x:axis({horizontal:true,room:25,min:-2.04,max:6.95,ticks:[0,2.5,5],title:'UMAP_1',titleSize:10,tickSize:8.5,fmt:v => v.toFixed(1)}),
        y:axis({room:24,min:-8.85,max:1.02,ticks:[-8,-6,-4,-2,0],title:'UMAP_2',titleSize:10,tickSize:8.5})
    }}
});
txt(170,619,'pseudotime',8.7,{transform:'translate(0,-50%)'});
colorBar(170,626.7,12.7,62.6,[['9',641.7],['6',657.3],['3',673.3],['0',688.5]],7.5);

// ---- C: box plots
function boxSets(rows,outs,off,color){
    let xs = quantiles.map(q => q+off);
    return [
        {data:rows.map((r,i) => ({x:xs[i],y:[r[0],r[4]]})),backgroundColor:'#555',barThickness:1.6,grouped:false,order:5},
        {data:rows.map((r,i) => ({x:xs[i],y:[r[1],r[3]]})),backgroundColor:color,borderColor:'#333',borderWidth:1.5,borderSkipped:false,barThickness:8,grouped:false,order:4},
        {data:rows.map((r,i) => ({x:xs[i],y:[r[2]-.03,r[2]+.03]})),backgroundColor:'#222',barThickness:8.5,grouped:false,order:3},
        {type:'scatter',data:outs.flatMap((o,i) => o.map(y => ({x:xs[i],y}))),backgroundColor:'#222',pointRadius:.9,pointBorderWidth:0,order:2}
    ];
}

const framePlugin = {
    id:'frame',
    afterDraw(chart){
        let a = chart.chartArea, ctx = chart.ctx;
        ctx.save();
        ctx.strokeStyle = '#8a8a8a';
        ctx.lineWidth = 1.4;
        ctx.strokeRect(a.left,a.top,a.width,a.height);
        ctx.restore();
    }
};

function boxPlot(left,right,top,bottom,xMin,xMax,yMin,yMax,yTicks,gRows,gOut,vRows,vOut,title){
    place({l:left,t:top,r:right,b:bottom},{l:14,t:6,r:8,b:22},{
        type:'bar',
        data:{datasets:boxSets(gRows,gOut,-.18,'#252e75').concat(boxSets(vRows,vOut,.18,'#f5dc64'))},
        plugins:[framePlugin],
        options:{scales:{
            x:axis({horizontal:true,room:22,min:xMin,max:xMax,ticks:quantiles,noLine:true,title:'Pseudotime Quantile',titleSize:9,titleWeight:'bold',titleColor:'#111',tickSize:6.5,tickText:'#666',tickColor:'#666',tickLen:2}),
            y:axis({room:14,min:yMin,max:yMax,ticks:yTicks,noLine:true,tickSize:6.5,tickText:'#666',tickColor:'#666',tickLen:2})
        }}
    });
    txt((left+right)/2,553,title,10,{fontWeight:'bold',color:'#111'});
}
boxPlot(231.7,347.3,563.3,726,.418,5.6,-.197,4.37,[0,1,2,3,4],tnfGlpgBox,tnfGlpgOut,tnfVehBox,tnfVehOut,'Tnfrsf11b');
boxPlot(374.3,489.3,563.3,725,.42,5.58,-.22,5.71,[0,2,4],vcamGlpgBox,vcamGlpgOut,vcamVehBox,vcamVehOut,'Vcam1');

box(504,645,11,5,{background:'#252e75',border:'1px solid #333'});
box(504,654,11,5,{background:'#77703f',border:'1px solid #333'});
txt(521,647.5,'GLPG',8,{transform:'translate(0,-50%)'});
txt(521,656.5,'Vehicle',8,{transform:'translate(0,-50%)'});

// panel letters
txt(2,11,'A',18,{fontWeight:'bold',color:'#000',transform:'translate(0,-50%)'});
txt(2,310,'B',18,{fontWeight:'bold',color:'#000',transform:'translate(0,-50%)'});
txt(2,549,'C',18,{fontWeight:'bold',color:'#000',transform:'translate(0,-50%)'});
</script>
</body>
</html>
